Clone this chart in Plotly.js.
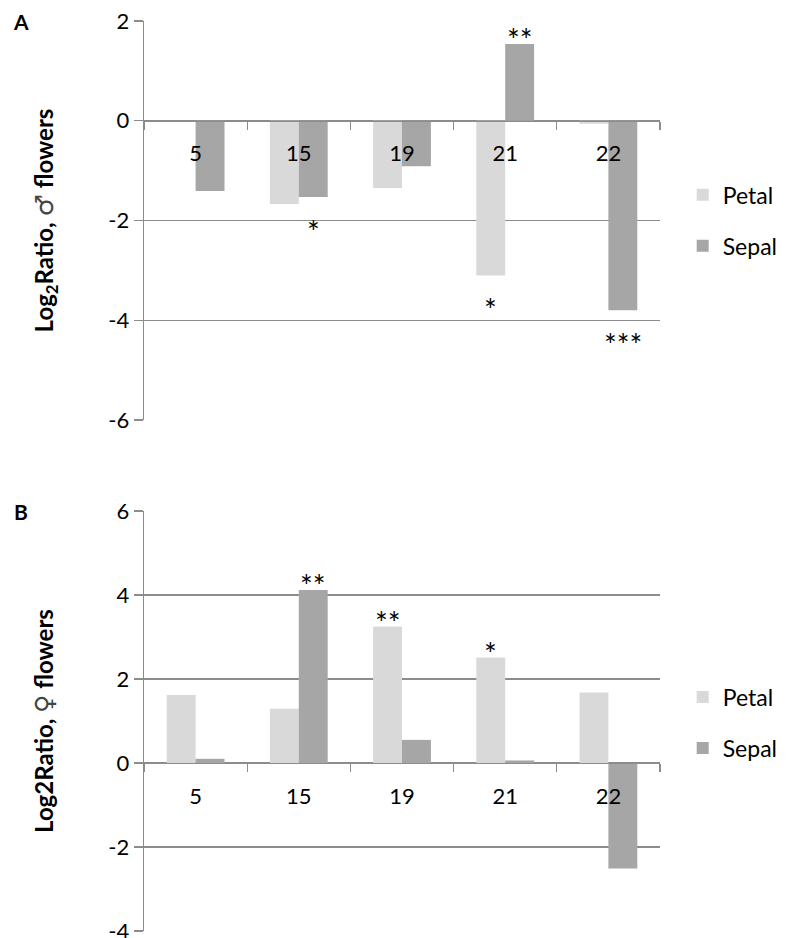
<!DOCTYPE html>
<html>
<head>
<meta charset="utf-8">
<script src="https://cdn.plot.ly/plotly-3.0.1.min.js"></script>
<style>html,body{margin:0;padding:0;background:#fff;}#chart{width:790px;height:938px;}</style>
</head>
<body>
<div id="chart"></div>
<script>
// ---- data ----
const categories = ['5', '15', '19', '21', '22'];
const petalA = [0, -1.67, -1.35, -3.10, -0.06];
const sepalA = [-1.41, -1.53, -0.91, 1.54, -3.80];
const petalB = [1.62, 1.29, 3.25, 2.51, 1.68];
const sepalB = [0.10, 4.12, 0.55, 0.06, -2.51];
const sigPetalA = ['', '', '', '*', ''];
const sigSepalA = ['', '*', '', '**', '***'];
const sigPetalB = ['', '', '**', '*', ''];
const sigSepalB = ['', '**', '', '', ''];
const yTicksA = [-6, -4, -2, 0, 2];
const yTicksB = [-4, -2, 0, 2, 4, 6];
const seriesNames = ['Petal', 'Sepal'];

// ---- style ----
const FONT = 'Lato, "Liberation Sans", sans-serif';
const PETAL_COLOR = '#d9d9d9';
const SEPAL_COLOR = '#a6a6a6';
const GRID = '#8c8c8c';
const domA = [0.5615, 1];
const domB = [0, 0.4615];
const rangeA = [yTicksA[0], yTicksA[yTicksA.length - 1]];
const rangeB = [yTicksB[0] - 0.001, yTicksB[yTicksB.length - 1]];
const BAR_HALF = 14.5;      // px offset of each bar centre from category centre
const SIG_UP = 5;           // px above positive bars
const SIG_DOWN = 34;        // px below negative bars
const SIG_SIZE = 30;
function zeroPos(dom, rng) { return dom[0] + (0 - rng[0]) / (rng[1] - rng[0]) * (dom[1] - dom[0]); }

function barTrace(name, y, color, xa, ya, legend) {
  return {
    type: 'bar', name: name, x: categories, y: y, xaxis: xa, yaxis: ya,
    marker: { color: color }, legend: legend, legendgroup: legend + name, hoverinfo: 'skip'
  };
}

const data = [
  barTrace(seriesNames[0], petalA, PETAL_COLOR, 'x', 'y', 'legend'),
  barTrace(seriesNames[1], sepalA, SEPAL_COLOR, 'x', 'y', 'legend'),
  barTrace(seriesNames[0], petalB, PETAL_COLOR, 'x2', 'y2', 'legend2'),
  barTrace(seriesNames[1], sepalB, SEPAL_COLOR, 'x2', 'y2', 'legend2')
];

function sigAnnotations(values, sigs, xref, yref, side) {
  const out = [];
  categories.forEach((c, i) => {
    if (!sigs[i]) return;
    const v = values[i];
    out.push({
      text: sigs[i], x: i, y: v, xref: xref, yref: yref, showarrow: false,
      xanchor: 'center', yanchor: 'middle',
      xshift: side * BAR_HALF, yshift: v >= 0 ? SIG_UP : -SIG_DOWN,
      font: { family: FONT, size: SIG_SIZE, color: '#000' }
    });
  });
  return out;
}

function xAxis(pos) {
  return {
    type: 'category', anchor: 'free', position: pos, domain: [0, 1],
    range: [-0.5, categories.length - 0.5], autorange: false,
    showline: true, linecolor: GRID, linewidth: 1.3, showgrid: false, zeroline: false,
    ticks: 'outside', tickson: 'boundaries', ticklen: 8, tickcolor: GRID, tickwidth: 1.3,
    ticklabelstandoff: 13, tickfont: { family: FONT, size: 22, color: '#000' }
  };
}
function yAxis(dom, rng, vals, title) {
  return {
    domain: dom, range: rng, tickvals: vals, ticktext: vals.map(String),
    showline: true, linecolor: GRID, linewidth: 1.3, showgrid: true, gridcolor: GRID, gridwidth: 1.3,
    zeroline: false, ticks: 'outside', ticklen: 9, tickcolor: GRID, tickwidth: 1.3,
    ticklabeloverflow: 'allow',
    tickfont: { family: FONT, size: 22, color: '#000' },
    title: { text: title, font: { family: FONT, size: 24, color: '#000', weight: 'bold' }, standoff: 48 }
  };
}

const SYM = s => '<span style="font-family:DejaVu Sans;font-weight:normal;font-size:25px;fill:#444">' + s + '</span>';

const layout = {
  width: 790, height: 938,
  margin: { l: 144, r: 128, t: 21, b: 7 },
  paper_bgcolor: '#fff', plot_bgcolor: '#fff',
  barmode: 'group', bargap: 0.44, bargroupgap: 0,
  font: { family: FONT, color: '#000' },
  xaxis: xAxis(zeroPos(domA, rangeA)),
  yaxis: yAxis(domA, rangeA, yTicksA, '<b>Log<sub>2</sub>Ratio, </b>' + SYM('♂') + '<b> flowers</b>'),
  xaxis2: xAxis(zeroPos(domB, rangeB)),
  yaxis2: yAxis(domB, rangeB, yTicksB, '<b>Log2Ratio, </b>' + SYM('♀') + '<b> flowers</b>'),
  legend: { x: 1.044, xanchor: 'left', y: 0.781, yanchor: 'middle', font: { family: FONT, size: 23 }, tracegroupgap: 18, bgcolor: 'rgba(0,0,0,0)' },
  legend2: { x: 1.044, xanchor: 'left', y: 0.229, yanchor: 'middle', font: { family: FONT, size: 23 }, tracegroupgap: 18, bgcolor: 'rgba(0,0,0,0)' },
  annotations: [
    { text: '<b>A</b>', xref: 'paper', yref: 'paper', x: -0.239, y: 1.0, xanchor: 'center', yanchor: 'middle', showarrow: false, font: { family: FONT, size: 21 } },
    { text: '<b>B</b>', xref: 'paper', yref: 'paper', x: -0.239, y: 0.4615, xanchor: 'center', yanchor: 'middle', showarrow: false, font: { family: FONT, size: 21 } }
  ].concat(
    sigAnnotations(petalA, sigPetalA, 'x', 'y', -1),
    sigAnnotations(sepalA, sigSepalA, 'x', 'y', 1),
    sigAnnotations(petalB, sigPetalB, 'x2', 'y2', -1),
    sigAnnotations(sepalB, sigSepalB, 'x2', 'y2', 1)
  ),
  showlegend: true
};

Plotly.newPlot('chart', data, layout, { staticPlot: true });
</script>
</body>
</html>
